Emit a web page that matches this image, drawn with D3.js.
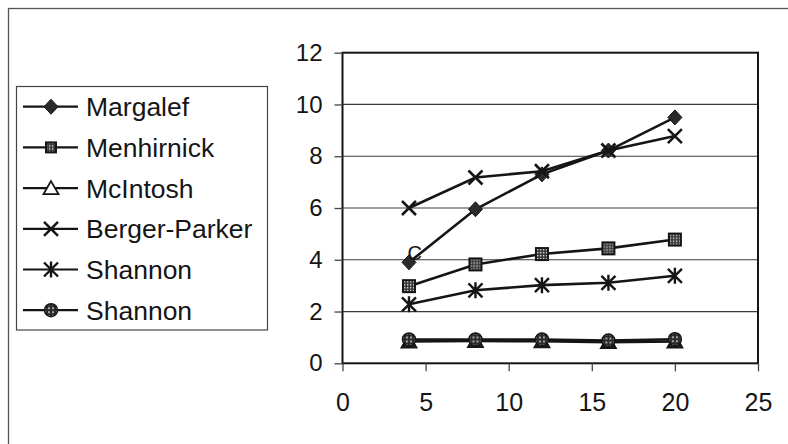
<!DOCTYPE html>
<html>
<head>
<meta charset="utf-8">
<script src="https://cdn.jsdelivr.net/npm/d3@7"></script>
<style>
  body { margin: 0; background: #fff; }
  svg { display: block; font-family: "Liberation Sans", Arial, sans-serif; }
</style>
</head>
<body>
<div id="chart"></div>
<script>
// data
const xVals = [4, 8, 12, 16, 20]
const margalef = [3.9, 5.95, 7.3, 8.22, 9.5]
const menhirnick = [2.98, 3.82, 4.22, 4.44, 4.78]
const mcintosh = [0.84, 0.86, 0.85, 0.82, 0.84]
const bergerParker = [6.0, 7.18, 7.42, 8.22, 8.78]
const shannon = [2.28, 2.82, 3.02, 3.11, 3.38]
const shannon2 = [0.92, 0.92, 0.92, 0.88, 0.93]
const seriesNames = ["Margalef", "Menhirnick", "McIntosh", "Berger-Parker", "Shannon", "Shannon"]
const seriesMarks = ["diamond", "square", "triangle", "x", "asterisk", "circle"]
const xTicks = [0, 5, 10, 15, 20, 25]
const yTicks = [0, 2, 4, 6, 8, 10, 12]

const allSeries = [margalef, menhirnick, mcintosh, bergerParker, shannon, shannon2]

const width = 788, height = 444
const ink = "#151515"

const svg = d3.select("#chart").append("svg")
    .attr("width", width)
    .attr("height", height)

const defs = svg.append("defs")
// dark checker with light dots for the squares
const pSq = defs.append("pattern").attr("id", "dotsSq")
    .attr("width", 3).attr("height", 3).attr("patternUnits", "userSpaceOnUse")
pSq.append("rect").attr("width", 3).attr("height", 3).attr("fill", "#3a3a3a")
pSq.append("rect").attr("x", 1).attr("y", 1).attr("width", 1.3).attr("height", 1.3).attr("fill", "#eee")
// dark fill with light dots for the circles
const pCi = defs.append("pattern").attr("id", "dotsDark")
    .attr("width", 4).attr("height", 4).attr("patternUnits", "userSpaceOnUse")
pCi.append("rect").attr("width", 4).attr("height", 4).attr("fill", "#2a2a2a")
pCi.append("circle").attr("cx", 2).attr("cy", 2).attr("r", 0.9).attr("fill", "#ddd")

// outer frame of the figure (runs off the right / bottom of the scan)
svg.append("rect")
    .attr("x", 8.5).attr("y", 8.5)
    .attr("width", 800).attr("height", 450)
    .attr("fill", "none").attr("stroke", "#555").attr("stroke-width", 1.3)

const x = d3.scaleLinear().domain([0, 25]).range([342.5, 758])
const y = d3.scaleLinear().domain([0, 12]).range([363.3, 52.7])

// gridlines
svg.append("g")
    .selectAll("line")
    .data(yTicks.filter(d => d > 0 && d < 12))
    .join("line")
        .attr("x1", x(0)).attr("x2", x(25))
        .attr("y1", d => y(d)).attr("y2", d => y(d))
        .attr("stroke", "#3a3a3a").attr("stroke-width", 1.2)

// plot frame
svg.append("rect")
    .attr("x", x(0)).attr("y", y(12))
    .attr("width", x(25) - x(0)).attr("height", y(0) - y(12))
    .attr("fill", "none").attr("stroke", ink).attr("stroke-width", 2)

// y axis
const yAxis = svg.append("g")
    .attr("transform", `translate(${x(0)},0)`)
    .call(d3.axisLeft(y).tickValues(yTicks).tickSize(8).tickPadding(12))
yAxis.select(".domain").remove()
yAxis.selectAll("line").attr("stroke", "#444").attr("stroke-width", 1.3)
yAxis.selectAll("text")
    .attr("fill", ink)
    .style("font-size", "24px")
    .style("font-family", "'Liberation Sans', Arial, sans-serif")

// x axis
const xAxis = svg.append("g")
    .attr("transform", `translate(0,${y(0)})`)
    .call(d3.axisBottom(x).tickValues(xTicks).tickSize(8).tickPadding(22))
xAxis.select(".domain").remove()
xAxis.selectAll("line").attr("stroke", "#444").attr("stroke-width", 1.3)
xAxis.selectAll("text")
    .attr("fill", ink)
    .style("font-size", "25px")
    .style("font-family", "'Liberation Sans', Arial, sans-serif")

function drawMark(g, type, legend) {
    if (type === "diamond") {
        g.append("path").attr("d", "M0,-7.5L7,0L0,7.5L-7,0Z").attr("fill", "#2a2a2a").attr("stroke", ink)
    } else if (type === "square") {
        const h = legend ? 5 : 6
        g.append("rect").attr("x", -h).attr("y", -h).attr("width", 2 * h).attr("height", 2 * h)
            .attr("fill", "url(#dotsSq)").attr("stroke", ink).attr("stroke-width", 2)
    } else if (type === "triangle") {
        g.append("path").attr("d", "M0,-7L7.5,6L-7.5,6Z")
            .attr("fill", legend ? "#fff" : "#222").attr("stroke", ink).attr("stroke-width", 1.8)
    } else if (type === "x") {
        g.append("path").attr("d", "M-7,-7L7,7M7,-7L-7,7").attr("stroke", ink).attr("stroke-width", 2.6)
    } else if (type === "asterisk") {
        g.append("path").attr("d", "M-7,-7L7,7M7,-7L-7,7M0,-8L0,8").attr("stroke", ink).attr("stroke-width", 2.4)
    } else if (type === "circle") {
        g.append("circle").attr("r", 6.5).attr("fill", "url(#dotsDark)").attr("stroke", ink).attr("stroke-width", 1.5)
    }
}

const line = d3.line()
    .x((d, i) => x(xVals[i]))
    .y(d => y(d))

allSeries.forEach((vals, s) => {
    const g = svg.append("g")
    g.append("path")
        .attr("d", line(vals))
        .attr("fill", "none").attr("stroke", ink).attr("stroke-width", 2.6)
    vals.forEach((v, i) => {
        const m = g.append("g").attr("transform", `translate(${x(xVals[i])},${y(v)})`)
        drawMark(m, seriesMarks[s], false)
    })
})

// "c" annotation above the first Margalef point
svg.append("text")
    .attr("x", x(4.35)).attr("y", y(4.2) + 5)
    .attr("text-anchor", "middle")
    .attr("fill", ink)
    .style("font-size", "20px")
    .text("C")

// legend
const legend = svg.append("g")
legend.append("rect")
    .attr("x", 16.5).attr("y", 86.5).attr("width", 251).attr("height", 243.5)
    .attr("fill", "#fff").attr("stroke", "#444").attr("stroke-width", 1.2)

seriesNames.forEach((name, i) => {
    const cy = 106.7 + i * 40.7
    const row = legend.append("g").attr("transform", `translate(0,${cy})`)
    row.append("line")
        .attr("x1", 23).attr("x2", 78)
        .attr("stroke", ink).attr("stroke-width", 2.2)
    const m = row.append("g").attr("transform", "translate(51,0)")
    drawMark(m, seriesMarks[i], true)
    row.append("text")
        .attr("x", 86).attr("y", 9.5)
        .attr("fill", ink)
        .style("font-size", "26.5px")
        .text(name)
})
</script>
</body>
</html>
